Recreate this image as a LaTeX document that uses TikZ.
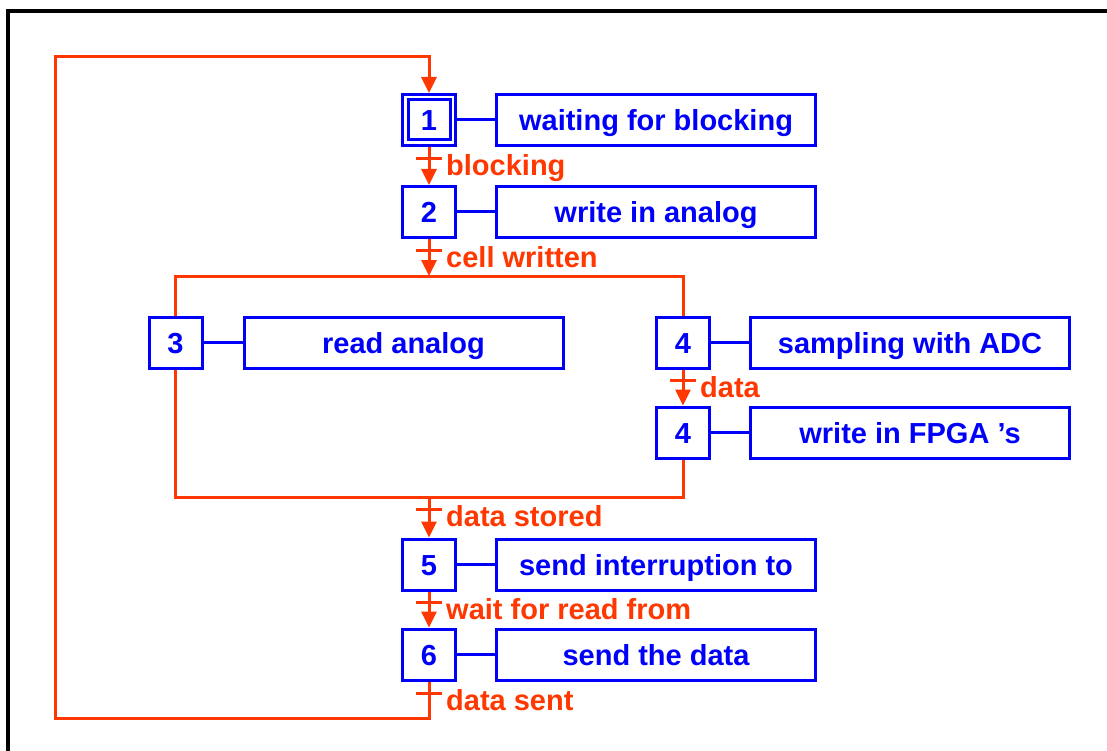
\documentclass[tikz,border=0pt]{standalone}
\usepackage{fontspec}
\setmainfont{Liberation Sans}
\usepackage{tikz}
\usetikzlibrary{arrows.meta}
\usetikzlibrary{positioning}

\definecolor{stepblue}{RGB}{0,0,250}
\definecolor{transred}{RGB}{255,55,0}

\begin{document}
\begin{tikzpicture}[x=1pt, y=-1pt, node distance=38pt,
        stepbox/.style={rectangle, draw=stepblue, line width=3pt, minimum width=53pt, minimum height=51pt, inner sep=0pt, text height=21pt, text depth=0pt, text=stepblue, font=\fontsize{29}{34}\selectfont\bfseries},
        actbox/.style={rectangle, draw=stepblue, line width=3pt, minimum width=319pt, minimum height=51pt, inner sep=0pt, text height=21pt, text depth=0pt, text=stepblue, font=\fontsize{29}{34}\selectfont\bfseries},
        link/.style={draw=stepblue, line width=3pt},
        redline/.style={draw=transred, line width=3pt},
        flow/.style={redline, -{Triangle[length=16pt, width=15pt]}},
        translabel/.style={anchor=base west, inner sep=0pt, text=transred, font=\fontsize{29}{34}\selectfont\bfseries}]
        \useasboundingbox (0,0) rectangle (1107,751);
        \draw[black, line width=4pt] (8,751) -- (8,11) -- (1107,11);

        % steps
        \node[stepbox] (step1) at (429,120) {1};
        \draw[link] ([shift={(7pt,7pt)}]step1.south west) rectangle ([shift={(-7pt,-7pt)}]step1.north east);
        \node[stepbox] (step2) [below=of step1] {2};
        \node[stepbox] (step3) at (175.5,342.5) {3};
        \node[stepbox] (step4) at (683,342.5) {4};
        \node[stepbox] (step4b) at (683,432.5) {4};
        \node[stepbox] (step5) at (429,564.5) {5};
        \node[stepbox] (step6) at (429,654.5) {6};

        % actions
        \node[actbox] (act1) [right=of step1] {waiting for blocking};
        \node[actbox] (act2) [right=of step2] {write in analog};
        \node[actbox] (act3) [right=39pt of step3] {read analog};
        \node[actbox] (act4) [right=of step4] {sampling with ADC};
        \node[actbox] (act4b) [right=of step4b] {write in FPGA 's};
        \node[actbox] (act5) [right=of step5] {send interruption to};
        \node[actbox] (act6) [right=of step6] {send the data};

        \foreach \s/\a in {step1/act1, step2/act2, step3/act3, step4/act4, step4b/act4b, step5/act5, step6/act6}
            \draw[link] (\s.east) -- (\a.west);

        % transitions
        \coordinate (split) at (429,276);
        \coordinate (join) at (429,497);
        \coordinate (back1) at (429,718);
        \coordinate (back2) at (55,57);

        \draw[flow] (step1) -- (step2);
        \draw[flow] (step2) -- (split);
        \draw[redline] (step3.north) |- (split) -| (step4.north);
        \draw[flow] (step4) -- (step4b);
        \draw[redline] (step3.south) |- (join) -| (step4b.south);
        \draw[flow] (join) -- (step5);
        \draw[flow] (step5) -- (step6);
        \draw[flow] (step6.south) -- (back1) -| (back2) -| (step1.north);

        \foreach \x/\y/\t [count=\i] in {429/159/blocking, 429/250/cell written, 683/380/data, 429/509/data stored, 429/602/wait for read from, 429/693/data sent} {
            \coordinate (tick\i) at (\x,\y);
            \draw[redline] ([xshift=-13pt]tick\i) -- ([xshift=13pt]tick\i);
            \node[translabel] (cond\i) at ([xshift=17pt, yshift=-17pt]tick\i) {\t};
        }
    \end{tikzpicture}
\end{document}
